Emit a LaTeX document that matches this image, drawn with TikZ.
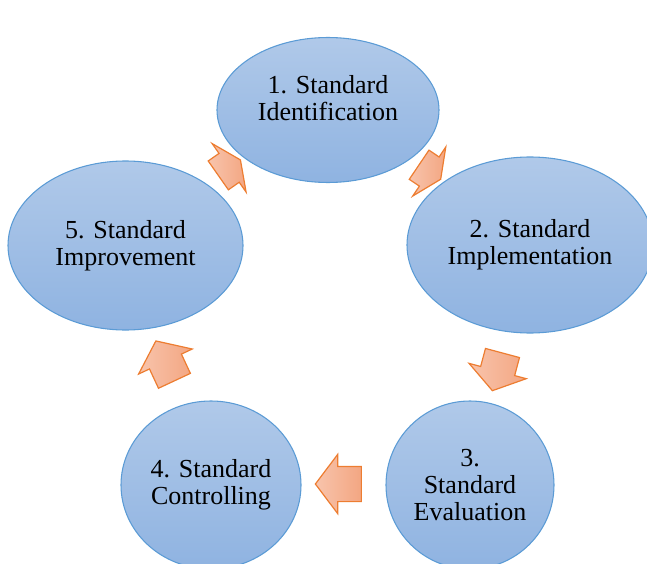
\documentclass[tikz,border=0pt]{standalone}
\usepackage{fontspec}
\setmainfont{Liberation Serif}
\usepackage{tikz}
\usetikzlibrary{shapes.geometric, shapes.arrows, positioning}
\usepackage{xcolor}
\definecolor{stageline}{RGB}{91,155,213}
\definecolor{stagetop}{RGB}{176,201,233}
\definecolor{stagebottom}{RGB}{143,179,225}
\definecolor{cycleorange}{RGB}{237,125,49}
\definecolor{arrowlight}{RGB}{248,196,172}
\definecolor{arrowdark}{RGB}{243,166,130}

\begin{document}
\begin{tikzpicture}[x=0.75pt, y=-0.75pt]
      % Styles
      \tikzset{stagefont/.style={align=center, font=\fontsize{19.5}{20.25}\selectfont}}
      \tikzset{stage/.style={draw=stageline, line width=0.8pt, ellipse, inner sep=0pt, top color=stagetop, bottom color=stagebottom, stagefont}}
      \tikzset{cyclearrow/.style={single arrow, draw=cycleorange, line width=0.9pt, left color=arrowlight, right color=arrowdark, inner xsep=0pt, inner ysep=12.75pt, minimum width=43.5pt, single arrow head extend=9pt}}

      \clip (0,0) rectangle (647,564);

      % --- The five stages, round the cycle ---
      \node[stage, minimum width=166.5pt, minimum height=108.75pt,
        label={[name=ident-text, stagefont, yshift=9pt]center:1. Standard\\Identification}] (ident) at (328,110) {};
      \node[stage, minimum width=184.5pt, minimum height=132pt] (impl) at (530,245) {2. Standard\\Implementation};
      \node[stage, minimum width=126pt, minimum height=126pt] (eval) at (470,485) {3.\\Standard\\Evaluation};
      \node[stage, minimum width=135pt, minimum height=126pt] (ctrl) at (211,485) {4. Standard\\Controlling};
      \node[stage, minimum width=176.25pt, minimum height=126.75pt] (impr) at (125.5,245.5) {5. Standard\\Improvement};

      % --- The block arrows between them ---
      \node[cyclearrow, minimum height=19.5pt, single arrow tip angle=130, rotate=-34] (ident-impl) at (426.5,169.7) {};
      \node[cyclearrow, minimum height=29.25pt, single arrow tip angle=111, rotate=-105] (impl-eval) at (499,366) {};
      \node[cyclearrow, minimum height=34.5pt, single arrow tip angle=106, rotate=180] (eval-ctrl) at (345,484) {};
      \node[cyclearrow, minimum height=33pt, single arrow tip angle=105, rotate=115] (ctrl-impr) at (168,367) {};
      \node[cyclearrow, minimum height=20.25pt, single arrow tip angle=130, rotate=35] (impr-ident) at (226,170) {};

    \end{tikzpicture}
\end{document}
